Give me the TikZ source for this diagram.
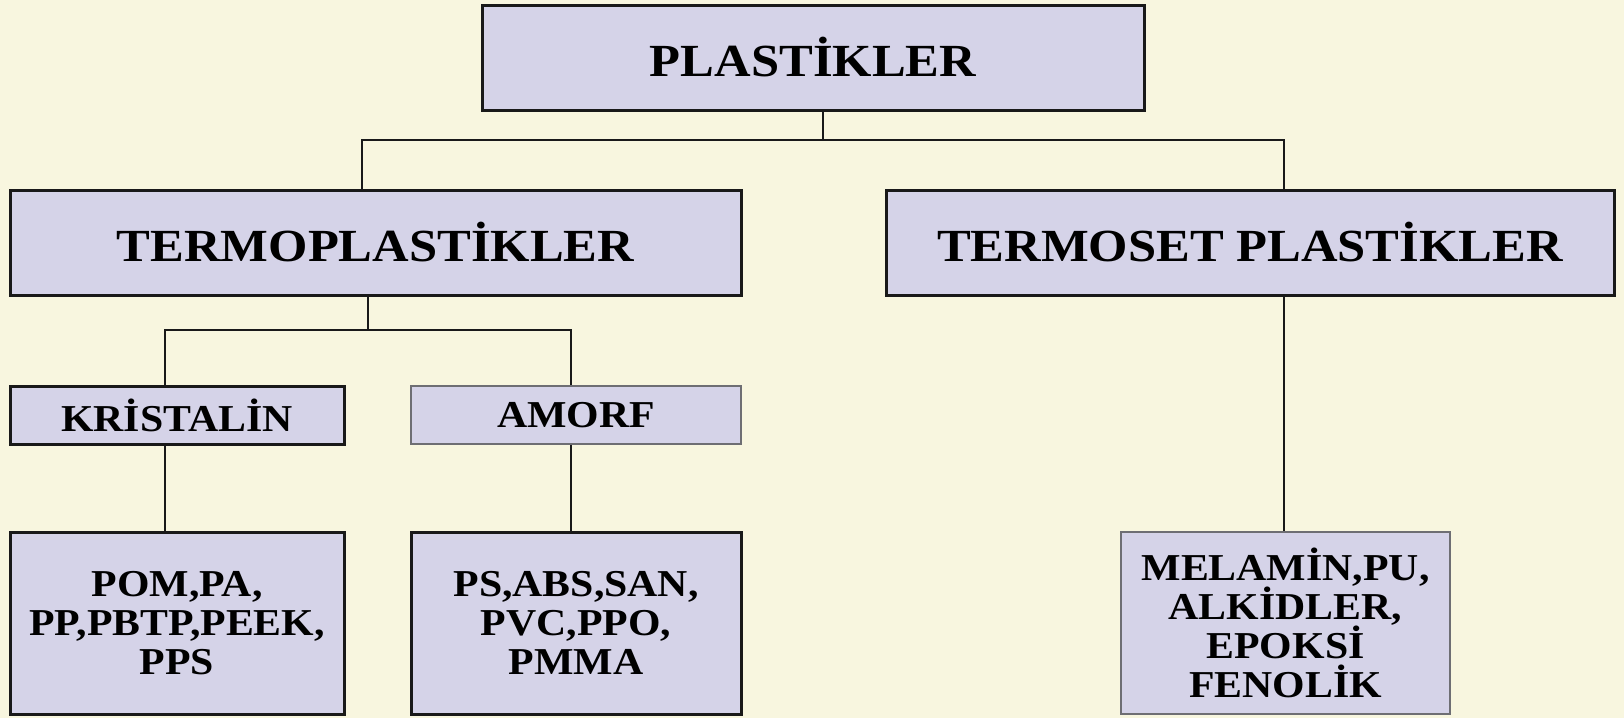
\documentclass[tikz,border=0pt]{standalone}
\usepackage{fontspec}
\setmainfont{Liberation Serif}[FakeStretch=1.1]
\definecolor{bgcol}{RGB}{248,246,223}
\definecolor{boxfill}{RGB}{213,211,232}
\definecolor{linecol}{RGB}{25,25,25}
\definecolor{softline}{RGB}{110,110,115}
\tikzset{
  box/.style={draw=linecol, line width=3pt, fill=boxfill, inner sep=0pt, align=center, text=black},
  softbox/.style={box, draw=softline, line width=1.8pt},
  hfont/.style={font=\fontsize{46}{50}\selectfont\bfseries},
  mfont/.style={font=\fontsize{38}{39}\selectfont\bfseries},
  conn/.style={draw=linecol, line width=2.6pt}
}
\begin{document}
\begin{tikzpicture}[x=1pt,y=-1pt]
\fill[bgcol] (0,0) rectangle (1624,718);
\useasboundingbox (0,0) rectangle (1624,718);

% level 0
\node[box,hfont,minimum width=662pt,minimum height=105pt] (plast) at (813,57.5) {PLASTİKLER};
% level 1
\node[box,hfont,minimum width=731pt,minimum height=105pt] (termo) at (375.5,242.5) {TERMOPLASTİKLER};
\node[box,hfont,minimum width=728pt,minimum height=105pt] (termoset) at (1250,242.5) {TERMOSET PLASTİKLER};
% level 2
\node[box,mfont,minimum width=334pt,minimum height=58pt] (kris) at (177,415) {KRİSTALİN};
\node[softbox,mfont,minimum width=330pt,minimum height=58pt] (amorf) at (576,415) {AMORF};
% level 3
\node[box,mfont,minimum width=334pt,minimum height=182pt] (pom) at (177,623) {POM,PA,\\PP,PBTP,PEEK,\\PPS};
\node[box,mfont,minimum width=330pt,minimum height=182pt] (ps) at (576,623) {PS,ABS,SAN,\\PVC,PPO,\\PMMA};
\node[softbox,mfont,minimum width=329pt,minimum height=182pt] (mel) at (1285.5,623) {MELAMİN,PU,\\ALKİDLER,\\EPOKSİ\\FENOLİK};

% branch points
\coordinate (b1) at (823,140);
\coordinate (bl) at (362,140);
\coordinate (br) at (1284,140);
\coordinate (b2) at (368,330);
\coordinate (b2l) at (165,330);
\coordinate (b2r) at (571,330);

% connectors
\draw[conn] (plast.south -| b1) -- (b1);
\draw[conn] (termo.north -| bl) -- (bl) -- (br) -- (termoset.north -| br);
\draw[conn] (termo.south -| b2) -- (b2);
\draw[conn] (kris.north -| b2l) -- (b2l) -- (b2r) -- (amorf.north -| b2r);
\draw[conn] (kris.south -| b2l) -- (pom.north -| b2l);
\draw[conn] (amorf.south -| b2r) -- (ps.north -| b2r);
\draw[conn] (termoset.south -| br) -- (mel.north -| br);
\end{tikzpicture}
\end{document}
